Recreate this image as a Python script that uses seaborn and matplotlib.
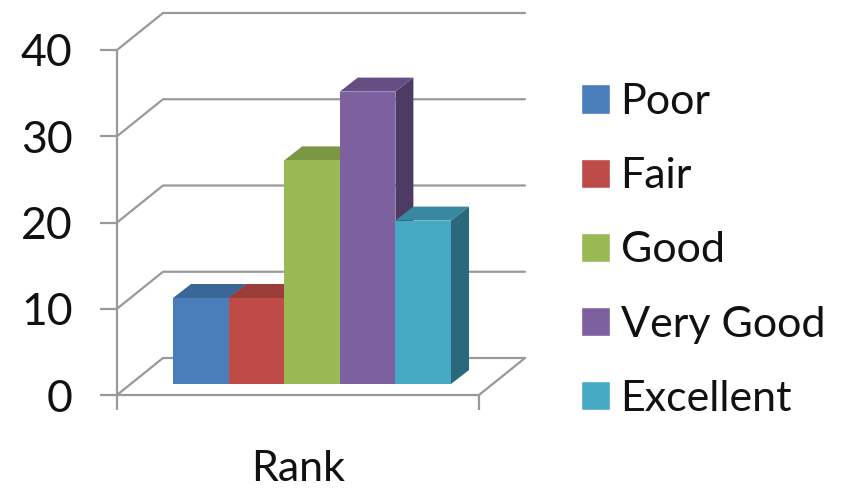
import matplotlib
matplotlib.use('Agg')
import matplotlib.pyplot as plt
import seaborn as sns
from matplotlib.patches import Patch, Polygon

ranks = ['Poor', 'Fair', 'Good', 'Very Good', 'Excellent']
scores = [10, 10, 26, 34, 19]
yticks = [0, 10, 20, 30, 40]
front = ['#4a7ebb', '#be4b48', '#98b954', '#7d60a0', '#46aac5']
tops = ['#3a6798', '#9c3d3a', '#7c9744', '#654e83', '#3889a0']
sides = ['#2c4f75', '#772e2c', '#5f7434', '#4d3b64', '#2a697b']

W, H = 846, 488
sns.set_theme(style='white')
plt.rcParams['font.family'] = ['Lato', 'DejaVu Sans']
GREY = '#999999'


def box(x0, x1, y_top, y_bottom):
    return [x0 / W, 1 - y_bottom / H, (x1 - x0) / W, (y_bottom - y_top) / H]


fig = plt.figure(figsize=(W / 100, H / 100), dpi=100)

# front plane holds the axis and its ticks
ax = fig.add_axes(box(117, 479, 50, 395))
ax.set_xlim(0, 1)
ax.set_ylim(0, 40)
ax.set_yticks(yticks)
ax.set_xticks([0, 1])
ax.set_xticklabels(['', ''])
ax.tick_params(axis='y', labelsize=32, length=12, width=1.6, color=GREY, pad=20, labelcolor='#111111', left=True)
ax.tick_params(axis='x', length=11, width=1.6, color=GREY, bottom=True)
ax.set_xlabel('Rank', fontsize=31, color='#111111', labelpad=25)
for name, spine in ax.spines.items():
    spine.set_visible(name in ('left', 'bottom'))
    spine.set_color(GREY)
    spine.set_linewidth(1.6)

# back wall is the front plane pushed up and right
wall_dx = 46 / 362
wall_dy = 37 / 345 * 40
for v in yticks:
    ax.plot([0, wall_dx, 1 + wall_dx], [v, v + wall_dy, v + wall_dy], color=GREY, lw=1.6, clip_on=False, zorder=1)
ax.plot([1, 1 + wall_dx], [0, wall_dy], color=GREY, lw=1.6, clip_on=False, zorder=1)

# bars sit on their own plane, part way back from the front one
bar_ax = fig.add_axes(box(173, 451, 384 - 344, 384))
bar_ax.patch.set_alpha(0)
sns.barplot(x=ranks, y=scores, hue=ranks, palette=front, order=ranks, hue_order=ranks,
            dodge=False, width=1, saturation=1, legend=False, ax=bar_ax, linewidth=0)
bar_ax.set_xlim(-0.5, 4.5)
bar_ax.set_ylim(0, 40)
bar_ax.axis('off')

depth_x = 18 / (278 / 5)
depth_y = 14 / 8.6
for i, bar in enumerate(bar_ax.patches):
    x0, x1 = bar.get_x(), bar.get_x() + bar.get_width()
    h = bar.get_height()
    bar_ax.add_patch(Polygon([(x0, h), (x1, h), (x1 + depth_x, h + depth_y), (x0 + depth_x, h + depth_y)],
                             facecolor=tops[i], edgecolor='none', clip_on=False, zorder=bar.get_zorder() - 0.1))
    bar_ax.add_patch(Polygon([(x1, 0), (x1 + depth_x, depth_y), (x1 + depth_x, h + depth_y), (x1, h)],
                             facecolor=sides[i], edgecolor='none', clip_on=False, zorder=bar.get_zorder() - 0.1))

handles = [Patch(facecolor=c, label=r) for r, c in zip(ranks, front)]
fig.legend(handles=handles, loc='center left', bbox_to_anchor=(581 / W, 1 - 250.5 / H), frameon=False,
           fontsize=31, labelcolor='#111111', handlelength=0.67, handleheight=0.67, handletextpad=0.25,
           labelspacing=0.84, borderpad=0, borderaxespad=0)

fig.savefig('out.png', dpi=100)
